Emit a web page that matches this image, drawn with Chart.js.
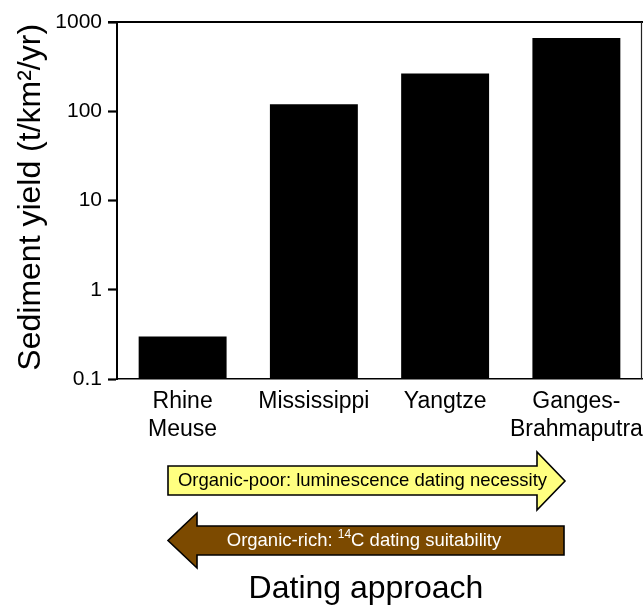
<!DOCTYPE html>
<html>
<head>
<meta charset="utf-8">
<script src="https://cdn.jsdelivr.net/npm/chart.js@4/dist/chart.umd.min.js"></script>
<style>
  html, body { margin: 0; padding: 0; background: #fff; }
  canvas { display: block; }
</style>
</head>
<body>
<canvas id="c" width="643" height="605"></canvas>
<script>
// River systems and their sediment yields (t/km²/yr)
const rivers = [['Rhine', 'Meuse'], 'Mississippi', 'Yangtze', ['Ganges-', 'Brahmaputra']];
const sedimentYield = [0.3, 120, 265, 660];

// Decade ticks on the log axis and the labels printed beside them
const decadeTicks = [0.1, 1, 10, 100, 1000];
const decadeLabels = ['0.1', '1', '10', '100', '1000'];

// Dating-approach arrows shown under the axis
const arrowTexts = {
  poor: 'Organic-poor: luminescence dating necessity',
  richLead: 'Organic-rich: ',
  richSup: '14',
  richTail: 'C dating suitability'
};
const footerTitle = 'Dating approach';

const FONT = '"Liberation Sans", Arial, Helvetica, sans-serif';
Chart.defaults.color = '#000';
Chart.defaults.font.family = FONT;

// Frame: heavy top edge and thin right edge around the plot area
const framePlugin = {
  id: 'frame',
  afterDatasetsDraw(chart) {
    const { ctx, chartArea: a } = chart;
    ctx.save();
    ctx.strokeStyle = '#000';
    ctx.lineWidth = 2.2;
    ctx.beginPath();
    ctx.moveTo(a.left - 9, a.top);
    ctx.lineTo(a.right + 1, a.top);
    ctx.stroke();
    ctx.lineWidth = 1.2;
    ctx.strokeStyle = '#222';
    ctx.beginPath();
    ctx.moveTo(a.right - 0.5, a.top);
    ctx.lineTo(a.right - 0.5, a.bottom);
    ctx.stroke();
    ctx.restore();
  }
};

// Arrows and caption describing the dating approach
const arrowsPlugin = {
  id: 'datingArrows',
  afterDraw(chart) {
    const ctx = chart.ctx;
    ctx.save();
    ctx.lineJoin = 'miter';
    ctx.lineWidth = 1.6;
    ctx.strokeStyle = '#000';

    // right-pointing yellow arrow
    ctx.beginPath();
    ctx.moveTo(168, 466);
    ctx.lineTo(537, 466);
    ctx.lineTo(537, 452);
    ctx.lineTo(565, 481);
    ctx.lineTo(537, 510);
    ctx.lineTo(537, 495);
    ctx.lineTo(168, 495);
    ctx.closePath();
    ctx.fillStyle = '#ffff80';
    ctx.fill();
    ctx.stroke();

    // left-pointing brown arrow
    ctx.beginPath();
    ctx.moveTo(564, 526);
    ctx.lineTo(197, 526);
    ctx.lineTo(197, 513);
    ctx.lineTo(168, 540.5);
    ctx.lineTo(197, 568);
    ctx.lineTo(197, 555);
    ctx.lineTo(564, 555);
    ctx.closePath();
    ctx.fillStyle = '#7c4a00';
    ctx.fill();
    ctx.stroke();

    // arrow captions
    ctx.textBaseline = 'middle';
    ctx.fillStyle = '#000';
    ctx.font = '18.5px ' + FONT;
    ctx.textAlign = 'center';
    ctx.fillText(arrowTexts.poor, 362.5, 481);

    ctx.fillStyle = '#fff';
    ctx.textAlign = 'left';
    const supFont = '12px ' + FONT;
    const mainFont = '18.5px ' + FONT;
    ctx.font = mainFont;
    const w1 = ctx.measureText(arrowTexts.richLead).width;
    const w3 = ctx.measureText(arrowTexts.richTail).width;
    ctx.font = supFont;
    const w2 = ctx.measureText(arrowTexts.richSup).width;
    let x = 364 - (w1 + w2 + w3) / 2;
    ctx.font = mainFont;
    ctx.fillText(arrowTexts.richLead, x, 541);
    x += w1;
    ctx.font = supFont;
    ctx.fillText(arrowTexts.richSup, x, 535);
    x += w2;
    ctx.font = mainFont;
    ctx.fillText(arrowTexts.richTail, x, 541);

    // caption under the arrows
    ctx.fillStyle = '#000';
    ctx.textAlign = 'center';
    ctx.textBaseline = 'alphabetic';
    ctx.font = '32px ' + FONT;
    ctx.fillText(footerTitle, 366, 598);
    ctx.restore();
  }
};

new Chart(document.getElementById('c'), {
  type: 'bar',
  data: {
    labels: rivers,
    datasets: [{
      data: sedimentYield,
      backgroundColor: '#000',
      borderWidth: 0,
      categoryPercentage: 1.0,
      barPercentage: 0.67
    }]
  },
  options: {
    responsive: false,
    devicePixelRatio: 1,
    animation: false,
    layout: { padding: { top: 22, right: 1, left: 0, bottom: 0 } },
    plugins: {
      legend: { display: false },
      tooltip: { enabled: false }
    },
    scales: {
      x: {
        grid: { display: false, drawTicks: false },
        border: { display: true, color: '#000', width: 1.5 },
        ticks: {
          font: { size: 23, lineHeight: 1.2 },
          padding: 9,
          maxRotation: 0,
          autoSkip: false
        },
        afterFit(scale) {
          scale.height = 226;
          scale.paddingLeft = 0;
          scale.paddingRight = 0;
        }
      },
      y: {
        type: 'logarithmic',
        min: 0.1,
        max: 1000,
        grid: {
          drawOnChartArea: false,
          drawTicks: true,
          tickLength: 9,
          tickWidth: 2.2,
          tickColor: '#000'
        },
        border: { display: true, color: '#000', width: 2 },
        afterBuildTicks(scale) {
          scale.ticks = decadeTicks.map(v => ({ value: v, major: true }));
        },
        ticks: {
          font: { size: 21 },
          padding: 6,
          autoSkip: false,
          callback(value) {
            const i = decadeTicks.findIndex(t => Math.abs(t - value) < 1e-9);
            return i >= 0 ? decadeLabels[i] : '';
          }
        },
        title: {
          display: true,
          text: '\u2009Sediment yield (t/km²/yr)',
          font: { size: 32, lineHeight: 1.2 },
          padding: { top: 12, bottom: 0 }
        },
        afterFit(scale) { scale.width = 117; }
      }
    }
  },
  plugins: [framePlugin, arrowsPlugin]
});
</script>
</body>
</html>
